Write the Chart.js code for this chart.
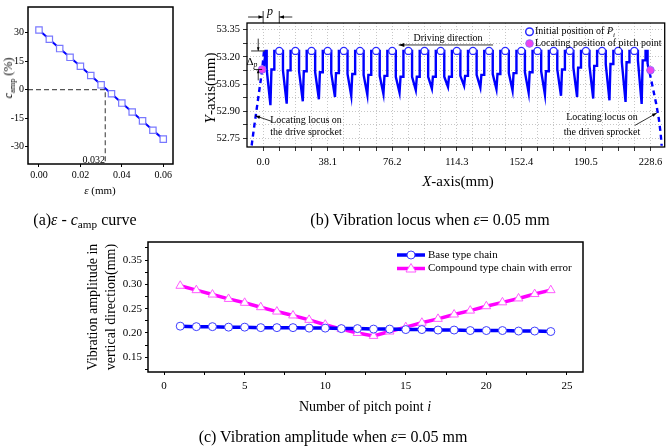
<!DOCTYPE html>
<html>
<head>
<meta charset="utf-8">
<script src="https://cdn.jsdelivr.net/npm/chart.js@4.4.1/dist/chart.umd.min.js"></script>
<style>
  html, body { margin: 0; padding: 0; background: #fff; }
  body { position: relative; width: 670px; height: 446px; overflow: hidden;
         font-family: "Liberation Serif", "Times New Roman", serif; color: #000; }
  canvas { position: absolute; }
  .lbl { position: absolute; white-space: nowrap; transform: translate(-50%, -50%); line-height: 1; }
  .rot { transform: translate(-50%, -50%) rotate(-90deg); }
  sub { font-size: 70%; vertical-align: -0.3em; line-height: 0; }
</style>
</head>
<body>
<canvas id="chartA" width="200" height="200" style="left:0;top:0"></canvas>
<canvas id="chartB" width="470" height="200" style="left:200px;top:0"></canvas>
<canvas id="chartC" width="670" height="172" style="left:0;top:230px"></canvas>

<!-- (a) texts -->
<div class="lbl rot" style="left:8px;top:78px;font-size:12px"><i>c</i><sub>amp</sub> (%)</div>
<div class="lbl" style="left:100px;top:190px;font-size:11px"><i>ε</i> (mm)</div>
<div class="lbl" style="left:105px;top:160px;font-size:10px;transform:translate(-100%,-50%)">0.032</div>
<div class="lbl" style="left:85px;top:220px;font-size:16px">(a)<i>ε</i> - <i>c</i><sub>amp</sub> curve</div>

<!-- (b) texts -->
<div class="lbl rot" style="left:210px;top:88px;font-size:15px"><i>Y</i>-axis(mm)</div>
<div class="lbl" style="left:458px;top:181px;font-size:15px"><i>X</i>-axis(mm)</div>
<div class="lbl" style="left:430px;top:220px;font-size:16px">(b) Vibration locus when <i>ε</i>= 0.05 mm</div>
<div class="lbl" style="left:448px;top:38px;font-size:10px">Driving direction</div>
<div class="lbl" style="left:270px;top:11px;font-size:12px"><i>p</i></div>
<div class="lbl" style="left:252px;top:61px;font-size:11px">Δ<sub><i>p</i></sub></div>
<div class="lbl" style="left:306px;top:120px;font-size:10px">Locating locus on</div>
<div class="lbl" style="left:306px;top:132px;font-size:10px">the drive sprocket</div>
<div class="lbl" style="left:602px;top:117px;font-size:10px">Locating locus on</div>
<div class="lbl" style="left:602px;top:132px;font-size:10px">the driven sprocket</div>

<!-- (c) texts -->
<div class="lbl rot" style="left:93px;top:307px;font-size:14px">Vibration amplitude in</div>
<div class="lbl rot" style="left:111px;top:307px;font-size:14px">vertical direction(mm)</div>
<div class="lbl" style="left:365px;top:407px;font-size:14px">Number of pitch point <i>i</i></div>
<div class="lbl" style="left:333px;top:437px;font-size:16px">(c) Vibration amplitude when <i>ε</i>= 0.05 mm</div>

<script>
// ---------- (a) eps - c_amp ----------
const epsValues  = [0, 0.005, 0.01, 0.015, 0.02, 0.025, 0.03, 0.035, 0.04, 0.045, 0.05, 0.055, 0.06];
const campValues = [31.4, 26.5, 21.6, 17.0, 12.3, 7.4, 2.5, -2.2, -7.1, -11.8, -16.5, -21.4, -26.1];
const crossEps = 0.032;
const aXTicks = [0, 0.02, 0.04, 0.06];
const aYTicks = [-30, -15, 0, 15, 30];

// ---------- (b) vibration locus ----------
const pitchX = [9.525, 19.05, 28.575, 38.1, 47.625, 57.15, 66.675, 76.2, 85.725, 95.25, 104.775, 114.3,
                123.825, 133.35, 142.875, 152.4, 161.925, 171.45, 180.975, 190.5, 200.025, 209.55, 219.075];
const pitchY = [53.232, 53.232, 53.232, 53.232, 53.232, 53.232, 53.232, 53.232, 53.232, 53.232, 53.232, 53.232,
                53.232, 53.232, 53.232, 53.232, 53.232, 53.232, 53.232, 53.232, 53.232, 53.232, 53.232];
const locatingX = [-0.6, 228.6];
const locatingY = [53.13, 53.126];
const locusX = [
  0.4, 1.4,
  2.1, 2.1, 4.3, 4.9, 6.6, 6.6,
  11.7, 11.7, 13.9, 14.5, 16.2, 16.2,
  21.2, 21.2, 23.4, 24.0, 25.7, 25.7,
  30.7, 30.7, 32.9, 33.5, 35.2, 35.2,
  40.2, 40.2, 42.4, 43.0, 44.7, 44.7,
  49.8, 49.8, 52.0, 52.6, 54.3, 54.3,
  59.3, 59.3, 61.5, 62.1, 63.8, 63.8,
  68.8, 68.8, 71.0, 71.6, 73.3, 73.3,
  78.3, 78.3, 80.5, 81.1, 82.8, 82.8,
  87.9, 87.9, 90.1, 90.7, 92.4, 92.4,
  97.4, 97.4, 99.6, 100.2, 101.9, 101.9,
  106.9, 106.9, 109.1, 109.7, 111.4, 111.4,
  116.4, 116.4, 118.6, 119.2, 120.9, 120.9,
  126.0, 126.0, 128.2, 128.8, 130.5, 130.5,
  135.5, 135.5, 137.7, 138.3, 140.0, 140.0,
  145.0, 145.0, 147.2, 147.8, 149.5, 149.5,
  154.5, 154.5, 156.7, 157.3, 159.0, 159.0,
  164.1, 164.1, 166.3, 166.9, 168.6, 168.6,
  173.6, 173.6, 175.8, 176.4, 178.1, 178.1,
  183.1, 183.1, 185.3, 185.9, 187.6, 187.6,
  192.6, 192.6, 194.8, 195.4, 197.1, 197.1,
  202.2, 202.2, 204.4, 205.0, 206.7, 206.7,
  211.7, 211.7, 213.9, 214.5, 216.2, 216.2,
  221.2, 221.2, 223.4, 224.0, 225.7, 225.7,
  226.9, 226.9
];
const locusY = [
  53.13, 53.232,
  53.232, 53.13, 52.933, 53.13, 53.13, 53.232,
  53.232, 53.125, 52.942, 53.125, 53.125, 53.232,
  53.232, 53.12, 52.955, 53.12, 53.12, 53.232,
  53.232, 53.115, 52.966, 53.115, 53.115, 53.232,
  53.232, 53.11, 52.978, 53.11, 53.11, 53.232,
  53.232, 53.105, 52.985, 53.105, 53.105, 53.232,
  53.232, 53.10, 52.990, 53.10, 53.10, 53.232,
  53.232, 53.095, 52.995, 53.095, 53.095, 53.232,
  53.232, 53.09, 53.003, 53.09, 53.09, 53.232,
  53.232, 53.09, 53.016, 53.09, 53.09, 53.232,
  53.232, 53.09, 53.025, 53.09, 53.09, 53.232,
  53.232, 53.09, 53.034, 53.09, 53.09, 53.232,
  53.232, 53.095, 53.040, 53.095, 53.095, 53.232,
  53.232, 53.10, 53.030, 53.10, 53.10, 53.232,
  53.232, 53.105, 53.021, 53.105, 53.105, 53.232,
  53.232, 53.11, 53.014, 53.11, 53.11, 53.232,
  53.232, 53.115, 53.002, 53.115, 53.115, 53.232,
  53.232, 53.12, 52.992, 53.12, 53.12, 53.232,
  53.232, 53.13, 52.985, 53.13, 53.13, 53.232,
  53.232, 53.14, 52.978, 53.14, 53.14, 53.232,
  53.232, 53.15, 52.970, 53.15, 53.15, 53.232,
  53.232, 53.16, 52.960, 53.16, 53.16, 53.232,
  53.232, 53.17, 52.951, 53.17, 53.17, 53.232,
  53.232, 53.18, 52.940, 53.18, 53.18, 53.232,
  53.232, 53.16
];
const driveLocusX = [0.5, -0.6, -2.5, -4.3, -5.8, -6.8];
const driveLocusY = [53.23, 53.13, 53.0, 52.88, 52.78, 52.71];
const drivenLocusX = [226.9, 228.4, 230.2, 232.0, 233.5, 234.6, 235.2];
const drivenLocusY = [53.16, 53.10, 53.02, 52.94, 52.86, 52.78, 52.71];
const bXTicks = [0, 9.525, 19.05, 28.575, 38.1, 47.625, 57.15, 66.675, 76.2, 85.725, 95.25, 104.775, 114.3,
                 123.825, 133.35, 142.875, 152.4, 161.925, 171.45, 180.975, 190.5, 200.025, 209.55, 219.075, 228.6];
const bXLabels = ['0.0', '38.1', '76.2', '114.3', '152.4', '190.5', '228.6'];
const bYTicks = [52.75, 52.825, 52.9, 52.975, 53.05, 53.125, 53.2, 53.275, 53.35];
const bYLabels = ['52.75', '52.90', '53.05', '53.20', '53.35'];

// ---------- (c) vibration amplitude ----------
const pitchIdx = [1, 2, 3, 4, 5, 6, 7, 8, 9, 10, 11, 12, 13, 14, 15, 16, 17, 18, 19, 20, 21, 22, 23, 24];
const baseAmp = [0.214, 0.213, 0.213, 0.212, 0.212, 0.211, 0.211, 0.211, 0.210, 0.210, 0.209, 0.209,
                 0.208, 0.208, 0.207, 0.207, 0.206, 0.206, 0.205, 0.205, 0.205, 0.204, 0.204, 0.203];
const compoundAmp = [0.297, 0.288, 0.279, 0.270, 0.262, 0.253, 0.244, 0.236, 0.227, 0.217, 0.208, 0.200,
                     0.194, 0.203, 0.212, 0.221, 0.229, 0.238, 0.246, 0.255, 0.263, 0.271, 0.280, 0.288];
const cXTicks = [0, 2.5, 5, 7.5, 10, 12.5, 15, 17.5, 20, 22.5, 25];
const cXLabels = ['0', '5', '10', '15', '20', '25'];
const cYTicks = [0.125, 0.15, 0.175, 0.2, 0.225, 0.25, 0.275, 0.3, 0.325, 0.35, 0.375];
const cYLabels = ['0.15', '0.20', '0.25', '0.30', '0.35'];

const serif = '"Liberation Serif", "Times New Roman", serif';
Chart.defaults.font.family = serif;
Chart.defaults.color = '#000';

const pts = (xs, ys) => xs.map((x, i) => ({ x, y: ys[i] }));
const fmtIn = (labels, digits) => v => {
  const s = v.toFixed(digits);
  return labels.includes(s) ? s : '';
};

function arrow(ctx, x1, y1, x2, y2, head) {
  const ang = Math.atan2(y2 - y1, x2 - x1);
  ctx.beginPath();
  ctx.moveTo(x1, y1);
  ctx.lineTo(x2, y2);
  ctx.stroke();
  ctx.beginPath();
  ctx.moveTo(x2, y2);
  ctx.lineTo(x2 - head * Math.cos(ang - 0.35), y2 - head * Math.sin(ang - 0.35));
  ctx.lineTo(x2 - head * Math.cos(ang + 0.35), y2 - head * Math.sin(ang + 0.35));
  ctx.closePath();
  ctx.fill();
}

const framePlugin = (w) => ({
  id: 'frame',
  afterDraw(chart) {
    const { ctx, chartArea: a } = chart;
    ctx.save();
    ctx.strokeStyle = '#000';
    ctx.lineWidth = w;
    ctx.strokeRect(a.left, a.top, a.right - a.left, a.bottom - a.top);
    ctx.restore();
  }
});

function axisTicks(size, padding, ticks, fmt, height, width) {
  return {
    type: 'linear',
    border: { display: false },
    grid: { drawOnChartArea: false, drawTicks: true, tickLength: 3, tickColor: '#000', tickWidth: 1 },
    ticks: { font: { size }, padding, autoSkip: false, maxRotation: 0, callback: fmt },
    afterBuildTicks: s => { s.ticks = ticks.map(v => ({ value: v })); },
    afterFit: s => { if (height !== undefined) s.height = height; if (width !== undefined) s.width = width; }
  };
}

// ---------- chart (a) ----------
const aXMin = -0.0053, aXMax = 0.0647, aYMin = -39.2, aYMax = 43.5;
new Chart(document.getElementById('chartA'), {
  type: 'scatter',
  data: {
    datasets: [
      {
        data: pts(epsValues, campValues), showLine: true,
        borderColor: '#0000ff', borderWidth: 2,
        pointStyle: 'rect', pointRadius: 4.5, pointBorderWidth: 1.2,
        pointBorderColor: '#7878ff', pointBackgroundColor: '#ffffff'
      },
      {
        data: [{ x: aXMin, y: 0 }, { x: crossEps, y: 0 }, { x: crossEps, y: aYMin }], showLine: true,
        borderColor: '#555', borderWidth: 1.2, borderDash: [5, 3], pointRadius: 0
      }
    ]
  },
  options: {
    responsive: false, animation: false,
    layout: { padding: { left: 0, top: 1, right: 27, bottom: 0 } },
    plugins: { legend: { display: false }, tooltip: { enabled: false } },
    scales: {
      x: Object.assign(axisTicks(10, 2, aXTicks, v => v.toFixed(2), 36), { min: aXMin, max: aXMax }),
      y: Object.assign(axisTicks(10, 1, aYTicks, v => String(v), undefined, 28), { min: aYMin, max: aYMax })
    }
  },
  plugins: [framePlugin(1.5)]
});

// ---------- chart (b) ----------
const bAnnot = {
  id: 'bAnnot',
  afterDraw(chart) {
    const { ctx, scales: { x, y } } = chart;
    const px = v => x.getPixelForValue(v), py = v => y.getPixelForValue(v);
    ctx.save();
    ctx.strokeStyle = '#000'; ctx.fillStyle = '#000'; ctx.lineWidth = 0.8;
    // driving direction
    arrow(ctx, px(135.7), py(53.265), px(80), py(53.265), 6);
    // pitch dimension p
    arrow(ctx, px(-8.9), 17, px(0), 17, 5);
    arrow(ctx, px(17.2), 17, px(9.525), 17, 5);
    ctx.beginPath();
    ctx.moveTo(px(0), 11); ctx.lineTo(px(0), 23);
    ctx.moveTo(px(9.525), 11); ctx.lineTo(px(9.525), 23);
    ctx.stroke();
    // delta p
    ctx.beginPath();
    ctx.moveTo(px(-7.1), py(53.232)); ctx.lineTo(px(1.0), py(53.232));
    ctx.moveTo(px(-5.5), py(53.13)); ctx.lineTo(px(-0.6), py(53.13));
    ctx.stroke();
    arrow(ctx, px(-2.9), py(53.3), px(-2.9), py(53.232), 4);
    arrow(ctx, px(-2.9), py(53.07), px(-2.9), py(53.13), 4);
    // locus pointers
    arrow(ctx, px(5.1), py(52.844), px(-4.6), py(52.875), 5);
    arrow(ctx, px(219.4), py(52.822), px(232.3), py(52.89), 5);
    // frame
    const a = chart.chartArea;
    ctx.lineWidth = 1.3;
    ctx.strokeRect(a.left, a.top, a.right - a.left, a.bottom - a.top);
    // legend
    ctx.font = '10px ' + serif;
    ctx.textBaseline = 'middle';
    ctx.lineWidth = 1.5;
    ctx.strokeStyle = '#2a2aff'; ctx.fillStyle = '#fff';
    ctx.beginPath(); ctx.arc(329.5, 31.7, 3.8, 0, Math.PI * 2); ctx.fill(); ctx.stroke();
    ctx.strokeStyle = '#9966ff'; ctx.fillStyle = '#ee44ee'; ctx.lineWidth = 1;
    ctx.beginPath(); ctx.arc(329.5, 43.5, 3.8, 0, Math.PI * 2); ctx.fill(); ctx.stroke();
    ctx.fillStyle = '#000';
    ctx.fillText('Initial position of ', 335, 31.7);
    const w = ctx.measureText('Initial position of ').width;
    ctx.font = 'italic 10px ' + serif;
    ctx.fillText('P', 335 + w, 31.7);
    const wp = ctx.measureText('P').width;
    ctx.font = 'italic 7px ' + serif;
    ctx.fillText('i', 335 + w + wp, 35);
    ctx.font = '10px ' + serif;
    ctx.fillText('Locating position of pitch point', 335, 43.5);
    ctx.restore();
  }
};

new Chart(document.getElementById('chartB'), {
  type: 'scatter',
  data: {
    datasets: [
      {
        label: 'Locating position of pitch point',
        data: pts(locatingX, locatingY),
        pointStyle: 'circle', pointRadius: 3.8, pointBorderWidth: 1,
        pointBorderColor: '#9966ff', pointBackgroundColor: '#ee44ee'
      },
      {
        label: 'Initial position of Pi',
        data: pts(pitchX, pitchY),
        pointStyle: 'circle', pointRadius: 3.5, pointBorderWidth: 1.3,
        pointBorderColor: '#2a2aff', pointBackgroundColor: '#ffffff'
      },
      {
        data: pts(locusX, locusY), showLine: true, pointRadius: 0,
        borderColor: '#0000ff', borderWidth: 2.4, borderJoinStyle: 'miter'
      },
      {
        data: pts(driveLocusX, driveLocusY), showLine: true, pointRadius: 0,
        borderColor: '#0000ff', borderWidth: 2.4, borderDash: [5, 4], cubicInterpolationMode: 'monotone'
      },
      {
        data: pts(drivenLocusX, drivenLocusY), showLine: true, pointRadius: 0,
        borderColor: '#0000ff', borderWidth: 2.4, borderDash: [5, 4]
      }
    ]
  },
  options: {
    responsive: false, animation: false,
    layout: { padding: { left: 0, top: 23, right: 2, bottom: 0 } },
    plugins: { legend: { display: false }, tooltip: { enabled: false } },
    scales: {
      x: {
        type: 'linear', min: -9.525, max: 237,
        border: { display: false, dash: [1, 2] },
        grid: { color: '#b8b8b8', lineWidth: 0.8, drawTicks: true, tickLength: 4, tickColor: '#000', tickBorderDash: [] },
        ticks: { font: { size: 10.5 }, padding: 5, autoSkip: false, maxRotation: 0, callback: fmtIn(bXLabels, 1) },
        afterBuildTicks: s => { s.ticks = bXTicks.map(v => ({ value: v })); },
        afterFit: s => { s.height = 53; }
      },
      y: {
        type: 'linear', min: 52.703, max: 53.386,
        border: { display: false, dash: [1, 2] },
        grid: { color: '#b8b8b8', lineWidth: 0.8, drawTicks: true, tickLength: 4, tickColor: '#000', tickBorderDash: [] },
        ticks: { font: { size: 10.5 }, padding: 3, autoSkip: false, callback: fmtIn(bYLabels, 2) },
        afterBuildTicks: s => { s.ticks = bYTicks.map(v => ({ value: v })); },
        afterFit: s => { s.width = 47; }
      }
    }
  },
  plugins: [bAnnot]
});

// ---------- chart (c) ----------
const cLegend = {
  id: 'cLegend',
  afterDraw(chart) {
    const { ctx } = chart;
    ctx.save();
    ctx.font = '11px ' + serif;
    ctx.textBaseline = 'middle';
    // base
    ctx.strokeStyle = '#0000ff'; ctx.lineWidth = 3.5;
    ctx.beginPath(); ctx.moveTo(397, 25); ctx.lineTo(425, 25); ctx.stroke();
    ctx.strokeStyle = '#3d3dff'; ctx.lineWidth = 1; ctx.fillStyle = '#fff';
    ctx.beginPath(); ctx.arc(411, 25, 4, 0, Math.PI * 2); ctx.fill(); ctx.stroke();
    // compound
    ctx.strokeStyle = '#ff00ff'; ctx.lineWidth = 3.5;
    ctx.beginPath(); ctx.moveTo(397, 38.5); ctx.lineTo(425, 38.5); ctx.stroke();
    ctx.strokeStyle = '#ff5cff'; ctx.lineWidth = 1; ctx.fillStyle = '#fff';
    ctx.beginPath(); ctx.moveTo(411, 33.5); ctx.lineTo(416, 42); ctx.lineTo(406, 42); ctx.closePath(); ctx.fill(); ctx.stroke();
    ctx.fillStyle = '#000';
    ctx.fillText('Base type chain', 428, 25);
    ctx.fillText('Compound type chain with error', 428, 38.5);
    ctx.restore();
  }
};

new Chart(document.getElementById('chartC'), {
  type: 'scatter',
  data: {
    datasets: [
      {
        label: 'Base type chain',
        data: pts(pitchIdx, baseAmp), showLine: true,
        borderColor: '#0000ff', borderWidth: 3.5,
        pointStyle: 'circle', pointRadius: 4, pointBorderWidth: 1,
        pointBorderColor: '#3d3dff', pointBackgroundColor: '#ffffff'
      },
      {
        label: 'Compound type chain with error',
        data: pts(pitchIdx, compoundAmp), showLine: true,
        borderColor: '#ff00ff', borderWidth: 3.5,
        pointStyle: 'triangle', pointRadius: 5, pointBorderWidth: 1,
        pointBorderColor: '#ff5cff', pointBackgroundColor: '#ffffff'
      }
    ]
  },
  options: {
    responsive: false, animation: false,
    layout: { padding: { left: 0, top: 12, right: 87, bottom: 0 } },
    plugins: { legend: { display: false }, tooltip: { enabled: false } },
    scales: {
      x: Object.assign(axisTicks(11, 5, cXTicks, fmtIn(cXLabels, 0), 30), { min: -1, max: 26 }),
      y: Object.assign(axisTicks(11, 3, cYTicks, fmtIn(cYLabels, 2), undefined, 148), { min: 0.1198, max: 0.387 })
    }
  },
  plugins: [framePlugin(1.5), cLegend]
});
</script>
</body>
</html>
